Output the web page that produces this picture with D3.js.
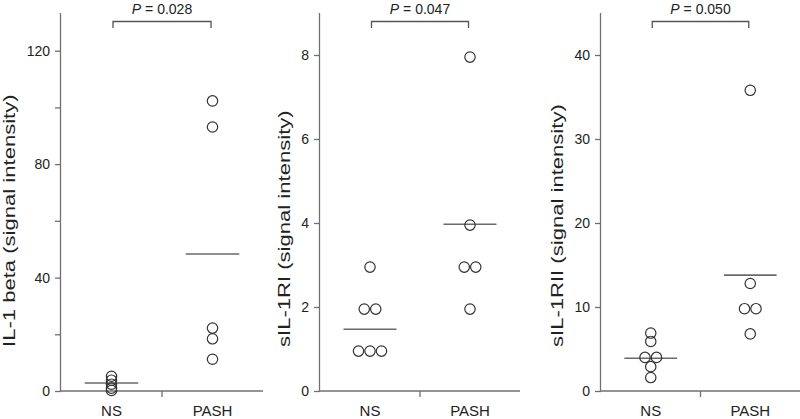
<!DOCTYPE html>
<html>
<head>
<meta charset="utf-8">
<script src="https://cdn.jsdelivr.net/npm/d3@7"></script>
<style>
  body { margin: 0; background: #fff; }
  svg { display: block; font-family: "Liberation Sans", Arial, sans-serif; }
</style>
</head>
<body>
<div id="vis"></div>
<script>
// groups on the x axis
var groups = ["NS", "PASH"];

// IL-1 beta panel
var il1BetaNS = [5.2, 3.8, 2.4, 1.0, 0.2];
var il1BetaPASH = [102.3, 93.1, 22.2, 18.4, 11.2];
var il1BetaLines = [2.8, 48.3]; // horizontal bars, NS then PASH
var il1BetaTicks = [0, 40, 80, 120];
var il1BetaMinor = [20, 60, 100];

// sIL-1RI panel
var sil1riNS = [2.95, 1.95, 1.95, 0.95, 0.95, 0.95];
var sil1riPASH = [7.95, 3.95, 2.95, 2.95, 1.95];
var sil1riLines = [1.47, 3.97];
var sil1riTicks = [0, 2, 4, 6, 8];

// sIL-1RII panel
var sil1riiNS = [6.9, 5.9, 4.0, 4.0, 2.9, 1.6];
var sil1riiPASH = [35.8, 12.8, 9.8, 9.8, 6.8];
var sil1riiLines = [3.9, 13.8];
var sil1riiTicks = [0, 10, 20, 30, 40];

var titles = ["IL-1 beta (signal intensity)", "sIL-1RI (signal intensity)", "sIL-1RII (signal intensity)"];
var pValues = ["0.028", "0.047", "0.050"];

var width = 800, height = 419;
var axisColor = "#707070";
var inkColor = "#222";

var svg = d3.select("#vis").append("svg")
  .attr("width", width)
  .attr("height", height);

// one entry per panel, with the pixel box of the plot area
var panels = [
  { left: 61, right: 263, max: 133.3, ns: il1BetaNS, pash: il1BetaPASH, lines: il1BetaLines, ticks: il1BetaTicks, minor: il1BetaMinor },
  { left: 320, right: 520, max: 9, ns: sil1riNS, pash: sil1riPASH, lines: sil1riLines, ticks: sil1riTicks, minor: [] },
  { left: 601, right: 800, max: 45, ns: sil1riiNS, pash: sil1riiPASH, lines: sil1riiLines, ticks: sil1riiTicks, minor: [] }
];

var plotTop = 13, plotBottom = 391;

panels.forEach(function (p, i) {
  var g = svg.append("g");

  var x = d3.scalePoint().domain(groups).range([p.left, p.right]).padding(0.5);
  var y = d3.scaleLinear().domain([0, p.max]).range([plotBottom, plotTop]);

  // y axis: labelled ticks
  var yAxis = g.append("g")
    .attr("transform", "translate(" + p.left + ",0)")
    .call(d3.axisLeft(y).tickValues(p.ticks).tickSize(6).tickPadding(5).tickFormat(d3.format("d")));
  // extra unlabelled ticks
  if (p.minor.length) {
    g.append("g")
      .attr("transform", "translate(" + p.left + ",0)")
      .call(d3.axisLeft(y).tickValues(p.minor).tickSize(6).tickFormat(""))
      .select(".domain").remove();
  }

  // x axis with one tick halfway between the groups
  var xAxisLine = g.append("g").attr("transform", "translate(0," + plotBottom + ")");
  xAxisLine.append("line")
    .attr("x1", p.left).attr("x2", p.right)
    .attr("stroke", axisColor).attr("stroke-width", 1.3);
  xAxisLine.append("line")
    .attr("x1", (x("NS") + x("PASH")) / 2).attr("x2", (x("NS") + x("PASH")) / 2)
    .attr("y1", 0).attr("y2", 6)
    .attr("stroke", axisColor).attr("stroke-width", 1.3);
  xAxisLine.selectAll("text.grp").data(groups).enter().append("text")
    .attr("class", "grp")
    .attr("x", function (d) { return x(d); })
    .attr("y", 25)
    .attr("text-anchor", "middle")
    .attr("fill", inkColor)
    .style("font-size", "15px")
    .text(function (d) { return d; });

  g.selectAll(".domain, .tick line").attr("stroke", axisColor).attr("stroke-width", 1.3);
  g.selectAll(".domain").attr("d", "M-0.5," + plotTop + "V" + plotBottom);
  g.selectAll(".tick text").attr("fill", inkColor).style("font-size", "14px").style("font-family", "inherit");

  // axis title, just left of the tick labels; stretched along its length like the original
  var bb = yAxis.node().getBBox();
  g.append("text")
    .attr("transform", "translate(" + (p.left + bb.x - 17) + ",347) rotate(-90) scale(1.38,1)")
    .attr("text-anchor", "start")
    .attr("dominant-baseline", "central")
    .attr("fill", inkColor)
    .style("font-size", "16px")
    .text(titles[i]);

  // spread identical values sideways so they do not sit on top of each other
  var step = 11.5;
  function placed(vals, grp) {
    var counts = d3.rollup(vals, function (v) { return v.length; }, function (d) { return d; });
    var seen = new Map();
    return vals.map(function (v) {
      var n = counts.get(v), k = seen.get(v) || 0;
      seen.set(v, k + 1);
      return { grp: grp, v: v, dx: (k - (n - 1) / 2) * step };
    });
  }
  var pts = placed(p.ns, "NS").concat(placed(p.pash, "PASH"));

  // group bars
  var half = x.step() * 0.265;
  g.selectAll("line.bar").data(groups).enter().append("line")
    .attr("class", "bar")
    .attr("x1", function (d) { return x(d) - half; })
    .attr("x2", function (d) { return x(d) + half; })
    .attr("y1", function (d, j) { return y(p.lines[j]); })
    .attr("y2", function (d, j) { return y(p.lines[j]); })
    .attr("stroke", "#6a6a6a")
    .attr("stroke-width", 1.6);

  g.selectAll("circle").data(pts).enter().append("circle")
    .attr("cx", function (d) { return x(d.grp) + d.dx; })
    .attr("cy", function (d) { return y(d.v); })
    .attr("r", 5.2)
    .attr("fill", "none")
    .attr("stroke", "#333")
    .attr("stroke-width", 1.2);

  // significance bracket
  var x0 = x("NS") + 1.5, x1 = x("PASH") - 1.5;
  g.append("path")
    .attr("d", "M" + x0 + ",28V21.5H" + x1 + "V28")
    .attr("fill", "none")
    .attr("stroke", "#555")
    .attr("stroke-width", 1.3);
  var pt = g.append("text")
    .attr("x", (x0 + x1) / 2)
    .attr("y", 13.5)
    .attr("text-anchor", "middle")
    .attr("fill", inkColor)
    .style("font-size", "14px");
  pt.append("tspan").style("font-style", "italic").text("P");
  pt.append("tspan").text(" = " + pValues[i]);
});
</script>
</body>
</html>
